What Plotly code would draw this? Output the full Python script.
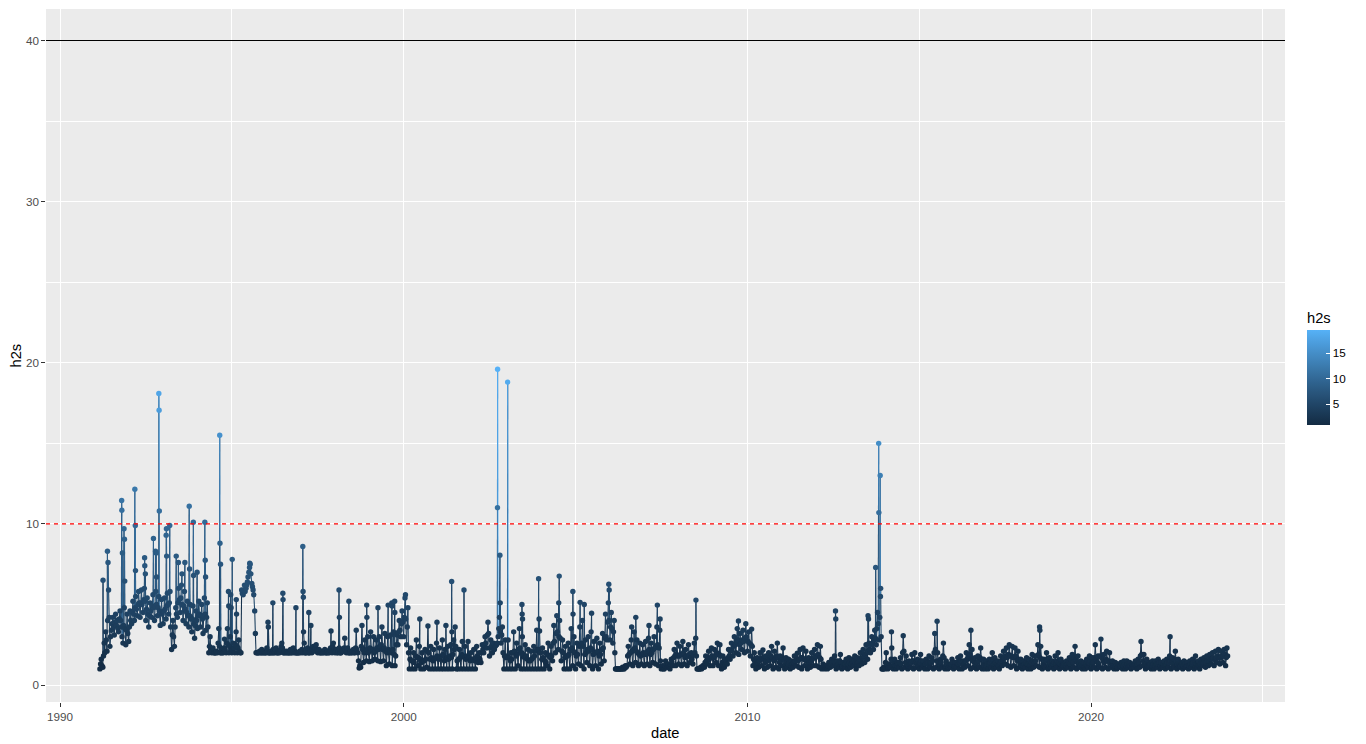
import numpy as np
import pandas as pd
import plotly.graph_objects as go

# ---------------- data ----------------
# readings on the 1st and 15th of each month
h2s_1991 = [1.0, 1.6, 1.1, 2.6, 3.3, 2.1, 5.9, 2.4, 3.4, 4.2, 3.1, 4.4, 4.0, 3.3, 4.6, 3.6, 2.6, 4.8, 2.5, 4.4]  # from March
h2s_1992 = [2.7, 4.6, 3.8, 5.2, 4.0, 5.5, 4.3, 5.8, 4.2, 5.9, 4.5, 6.0, 4.0, 5.4, 3.6, 5.1, 4.2, 5.6, 4.0, 5.8, 4.3, 5.5, 3.7, 5.3]
h2s_1993 = [3.8, 5.4, 4.1, 5.7, 4.4, 5.8, 2.2, 4.0, 2.4, 4.8, 4.2, 6.0, 4.5, 6.2, 4.0, 5.8, 3.8, 5.2, 3.6, 5.0, 3.3, 4.9, 2.9, 4.6]
h2s_1994 = [3.5, 5.2, 3.6, 5.0, 3.2, 5.4, 3.4, 5.1, 2.0, 3.0, 2.0, 2.3, 2.0, 2.0, 2.0, 3.5, 2.0, 2.2, 2.0, 2.85, 2.0, 3.5, 2.0, 3.0]
h2s_1995 = [2.0, 2.6, 2.0, 3.3, 2.0, 2.8, 2.0, 5.9, 5.6, 6.2, 6.0, 6.4, 7.0, 7.5, 6.3, 5.9, 4.6, 2.0, 2.0, 2.0, 2.0, 2.2, 2.0, 2.0]
h2s_1996 = [2.0, 2.1, 2.0, 2.0, 2.0, 2.2, 2.0, 2.3, 2.0, 2.1, 2.2, 2.6, 2.0, 2.1, 2.0, 2.0, 2.0, 2.2, 2.0, 2.3, 2.1, 2.0, 2.0, 2.0]
h2s_1997 = [2.0, 2.2, 3.3, 2.0, 2.0, 2.3, 2.0, 2.2, 2.0, 2.4, 2.1, 2.5, 2.0, 2.2, 2.0, 2.1, 2.0, 2.2, 2.0, 2.1, 2.0, 2.3, 2.0, 2.6]
h2s_1998 = [2.0, 2.2, 2.0, 2.3, 2.0, 2.2, 2.1, 2.9, 2.0, 2.3, 2.0, 2.1, 2.0, 2.2, 2.0, 3.4, 2.0, 1.05, 1.1, 3.7, 1.4, 2.8, 1.5, 3.0]
h2s_1999 = [1.45, 3.3, 1.5, 3.0, 1.6, 2.8, 1.5, 3.0, 1.45, 3.6, 1.5, 3.2, 1.2, 3.0, 1.3, 3.1, 1.2, 3.3, 1.2, 2.5, 2.5, 4.0, 3.0, 4.6]
h2s_2000 = [3.0, 5.4, 2.5, 4.8, 1.0, 2.3, 1.0, 2.0, 1.0, 2.8, 1.2, 2.4, 1.0, 2.0, 1.0, 2.2, 1.1, 3.66, 1.0, 2.4, 1.0, 2.2, 1.0, 2.6]
h2s_2001 = [1.0, 2.3, 1.0, 2.8, 1.0, 2.2, 1.0, 2.4, 1.0, 2.5, 1.0, 2.8, 3.6, 1.0, 1.0, 2.2, 1.0, 2.7, 1.0, 2.4, 1.0, 2.7, 1.0, 2.0]
h2s_2002 = [1.0, 2.2, 1.0, 2.4, 1.4, 2.0, 1.4, 2.5, 2.0, 3.0, 2.3, 3.9, 1.8, 2.8, 2.0, 2.6, 2.4, 2.5, 3.0, 4.2, 2.6, 3.6, 1.0, 2.8]
h2s_2003 = [1.0, 2.8, 1.0, 2.0, 1.0, 3.3, 1.0, 2.6, 1.2, 3.5, 1.0, 3.0, 1.0, 2.5, 1.0, 2.2, 1.0, 2.1, 1.0, 2.4, 1.0, 3.4, 1.0, 3.35]
h2s_2004 = [1.0, 2.3, 1.0, 2.0, 1.2, 2.6, 1.0, 2.4, 1.5, 3.7, 2.0, 4.3, 2.2, 4.0, 1.5, 2.8, 1.0, 2.4, 1.0, 2.6, 1.0, 3.5, 1.2, 3.0]
h2s_2005 = [1.0, 2.6, 1.3, 3.6, 1.2, 4.0, 1.0, 2.8, 1.4, 3.0, 1.2, 3.3, 1.0, 2.7, 1.2, 2.9, 1.0, 2.6, 1.3, 3.2, 1.5, 4.4, 2.8, 5.1]
h2s_2006 = [2.8, 4.5, 2.6, 4.0, 1.0, 1.0, 1.0, 1.0, 1.0, 1.1, 1.0, 1.2, 1.2, 2.4, 1.3, 2.8, 1.2, 3.3, 1.4, 2.8, 1.2, 2.6, 1.3, 2.5]
h2s_2007 = [1.2, 2.7, 1.3, 2.9, 1.2, 2.6, 1.4, 3.0, 1.3, 3.6, 1.2, 3.4, 1.0, 1.2, 1.0, 1.5, 1.1, 1.3, 1.0, 1.6, 1.2, 2.2, 1.2, 2.6]
h2s_2008 = [1.3, 2.4, 1.2, 2.7, 1.3, 2.2, 1.2, 2.5, 1.4, 2.0, 1.3, 2.6, 2.9, 1.0, 1.0, 1.0, 1.0, 1.2, 1.1, 1.8, 1.3, 2.1, 1.2, 2.3]
h2s_2009 = [1.2, 2.2, 1.4, 2.6, 1.2, 2.5, 1.0, 1.8, 1.1, 1.6, 1.3, 2.2, 1.6, 2.6, 1.8, 3.0, 2.0, 3.5, 1.9, 3.2, 2.2, 3.4, 2.0, 3.8]
h2s_2010 = [2.1, 3.3, 1.8, 3.47, 1.2, 2.0, 1.0, 1.7, 1.1, 2.0, 1.2, 2.17, 1.0, 1.8, 1.1, 2.0, 1.2, 2.4, 1.0, 2.1, 1.1, 2.6, 1.0, 1.8]
h2s_2011 = [1.2, 2.3, 1.0, 1.7, 1.1, 1.6, 1.0, 1.5, 1.1, 1.8, 1.2, 1.97, 1.1, 2.2, 1.0, 2.3, 1.2, 2.1, 1.0, 1.7, 1.1, 2.0, 1.2, 2.2]
h2s_2012 = [1.2, 2.5, 1.1, 2.4, 1.0, 1.3, 1.0, 1.2, 1.0, 1.4, 1.1, 1.6, 1.2, 1.8, 1.0, 1.5, 1.1, 1.9, 1.0, 1.4, 1.1, 1.6, 1.0, 1.7]
h2s_2013 = [1.1, 1.6, 1.2, 1.8, 1.0, 1.7, 1.2, 2.0, 1.3, 2.2, 1.4, 2.5, 1.6, 2.6, 2.0, 3.0, 2.2, 3.4, 2.5, 4.5, 2.8, 5.5, 1.0, 1.0]
h2s_2014 = [1.0, 2.0, 1.0, 1.3, 1.1, 2.3, 1.0, 1.6, 1.0, 1.4, 1.1, 1.7, 1.0, 3.06, 1.1, 1.8, 1.0, 1.5, 1.1, 1.9, 1.0, 2.0, 1.1, 1.6]
h2s_2015 = [1.0, 1.9, 1.1, 1.5, 1.0, 1.6, 1.0, 1.8, 1.1, 1.7, 1.0, 3.2, 1.1, 2.0, 1.0, 1.6, 1.1, 2.6, 1.0, 1.5, 1.0, 1.3, 1.1, 1.6]
h2s_2016 = [1.0, 1.4, 1.1, 1.7, 1.0, 1.8, 1.0, 1.5, 1.1, 2.0, 1.2, 2.5, 1.0, 2.2, 1.1, 1.7, 1.0, 1.8, 1.1, 2.3, 1.0, 1.6, 1.0, 1.5]
h2s_2017 = [1.0, 1.6, 1.1, 2.0, 1.0, 1.7, 1.1, 1.5, 1.0, 1.8, 1.2, 2.1, 1.3, 2.3, 1.2, 2.5, 1.1, 2.4, 1.2, 2.3, 1.0, 2.1, 1.1, 1.6]
h2s_2018 = [1.0, 1.5, 1.1, 1.7, 1.0, 1.6, 1.0, 1.9, 1.1, 1.8, 1.2, 2.5, 1.1, 2.4, 1.0, 1.6, 1.1, 2.0, 1.0, 1.7, 1.1, 1.5, 1.0, 1.8]
h2s_2019 = [1.1, 2.0, 1.0, 1.6, 1.1, 1.4, 1.0, 1.5, 1.1, 1.7, 1.0, 1.9, 1.1, 2.4, 1.0, 1.8, 1.1, 1.5, 1.0, 1.4, 1.0, 1.6, 1.1, 1.8]
h2s_2020 = [1.0, 1.7, 1.1, 2.5, 1.0, 1.8, 1.1, 2.85, 1.0, 1.9, 1.1, 2.1, 1.0, 2.0, 1.1, 1.5, 1.0, 1.4, 1.0, 1.3, 1.1, 1.4, 1.0, 1.5]
h2s_2021 = [1.0, 1.5, 1.1, 1.4, 1.0, 1.3, 1.1, 1.5, 1.0, 1.6, 1.1, 2.7, 1.2, 1.9, 1.0, 1.6, 1.1, 1.4, 1.0, 1.5, 1.0, 1.5, 1.1, 1.6]
h2s_2022 = [1.0, 1.4, 1.1, 1.5, 1.0, 1.6, 1.1, 1.8, 1.0, 1.7, 1.1, 2.1, 1.0, 1.6, 1.1, 1.4, 1.0, 1.5, 1.1, 1.4, 1.0, 1.5, 1.1, 1.6]
h2s_2023 = [1.0, 1.8, 1.1, 1.5, 1.0, 1.6, 1.2, 1.7, 1.1, 1.8, 1.2, 1.9, 1.3, 2.0, 1.2, 2.1, 1.4, 2.2, 1.3, 2.1, 1.4, 2.2, 1.2, 2.3]

# readings on the 8th and 22nd of each month
mid_1991 = [1.3, 1.2, 1.8, 2.0, 2.8, 4.0, 4.2, 3.0, 3.8, 3.6, 3.9, 3.7, 3.5, 4.1, 4.0, 3.0, 3.7, 3.5, 3.4, 3.2]  # from March
mid_1992 = [3.6, 4.0, 4.5, 4.4, 4.8, 4.7, 5.0, 5.1, 5.1, 5.0, 5.3, 5.2, 4.7, 4.4, 4.3, 4.6, 4.9, 4.8, 4.9, 5.0, 4.8, 4.6, 4.5, 4.4]
mid_1993 = [4.6, 4.7, 4.9, 5.0, 5.1, 3.6, 3.1, 3.0, 3.6, 4.4, 5.1, 5.3, 5.4, 5.0, 4.9, 4.7, 4.5, 4.3, 4.3, 4.1, 4.1, 3.8, 3.7, 4.0]
mid_1994 = [4.3, 4.4, 4.3, 4.1, 4.3, 4.4, 4.2, 3.6, 2.4, 2.2, 2.1, 2.0, 2.0, 2.1, 2.6, 2.4, 2.0, 2.0, 2.3, 2.2, 2.6, 2.5, 2.4, 2.2]
mid_1995 = [2.2, 2.3, 2.5, 2.4, 2.3, 2.1, 2.0, 5.7, 5.9, 5.8, 6.2, 6.7, 7.3, 6.9, 6.1, 5.6, 3.2, 2.0, 2.0, 2.1, 2.0, 2.0, 2.1, 2.0]
mid_1996 = [2.3, 2.0, 2.0, 2.1, 2.0, 2.0, 2.2, 2.0, 2.0, 2.0, 2.4, 2.3, 2.0, 2.0, 2.1, 2.0, 2.0, 2.0, 2.2, 2.0, 2.0, 2.0, 2.0, 2.1]
mid_1997 = [2.1, 2.0, 2.6, 2.0, 2.1, 2.0, 2.0, 2.1, 2.2, 2.2, 2.3, 2.2, 2.1, 2.0, 2.0, 2.0, 2.1, 2.0, 2.0, 2.0, 2.2, 2.1, 2.4, 2.2]
mid_1998 = [2.1, 2.0, 2.1, 2.0, 2.0, 2.1, 2.3, 2.2, 2.1, 2.0, 2.0, 2.0, 2.1, 2.0, 2.3, 2.2, 1.5, 1.2, 2.4, 2.2, 2.0, 2.1, 2.2, 2.0]
mid_1999 = [2.3, 2.2, 2.2, 2.0, 2.1, 2.3, 2.2, 2.4, 2.5, 2.2, 2.3, 2.1, 2.0, 2.2, 2.1, 2.0, 2.2, 1.9, 1.8, 3.1, 3.3, 3.4, 3.8, 3.9]
mid_2000 = [4.2, 4.1, 3.6, 2.0, 1.6, 1.5, 1.5, 1.4, 1.8, 1.7, 1.7, 1.6, 1.4, 1.5, 1.5, 1.6, 2.1, 2.0, 1.6, 1.7, 1.5, 1.6, 1.7, 1.8]
mid_2001 = [1.6, 1.7, 1.8, 1.9, 1.5, 1.6, 1.7, 1.6, 1.8, 1.7, 1.9, 2.2, 2.4, 1.5, 1.6, 1.7, 1.9, 1.8, 1.7, 1.6, 1.8, 1.7, 1.5, 1.6]
mid_2002 = [1.6, 1.5, 1.7, 1.8, 1.7, 1.6, 2.0, 2.2, 2.5, 2.6, 3.1, 3.2, 2.3, 2.4, 2.3, 2.2, 2.5, 2.6, 3.5, 3.3, 3.1, 2.0, 1.8, 1.7]
mid_2003 = [1.8, 1.7, 1.5, 1.6, 2.0, 2.1, 1.8, 1.9, 2.2, 2.3, 2.0, 1.9, 1.7, 1.8, 1.6, 1.5, 1.5, 1.6, 1.7, 1.8, 2.1, 2.2, 2.2, 2.0]
mid_2004 = [1.6, 1.7, 1.5, 1.4, 1.9, 1.8, 1.7, 1.8, 2.6, 2.7, 3.2, 3.3, 3.0, 2.9, 2.1, 2.0, 1.7, 1.8, 1.8, 1.9, 2.2, 2.3, 2.1, 2.0]
mid_2005 = [1.8, 1.9, 2.4, 2.5, 2.6, 2.4, 1.9, 2.0, 2.2, 2.1, 2.3, 2.2, 1.9, 2.0, 2.0, 2.1, 1.8, 1.9, 2.2, 2.3, 2.9, 3.0, 3.9, 4.0]
mid_2006 = [3.6, 3.5, 3.3, 2.0, 1.0, 1.0, 1.0, 1.0, 1.0, 1.0, 1.1, 1.1, 1.8, 1.9, 2.0, 2.1, 2.2, 2.3, 2.1, 2.0, 1.9, 1.8, 1.9, 2.0]
mid_2007 = [1.9, 2.0, 2.1, 2.2, 1.9, 2.0, 2.2, 2.3, 2.4, 2.5, 2.3, 1.5, 1.1, 1.0, 1.2, 1.3, 1.2, 1.1, 1.3, 1.4, 1.7, 1.8, 1.9, 1.8]
mid_2008 = [1.8, 1.9, 1.9, 2.0, 1.7, 1.8, 1.8, 1.9, 1.7, 1.6, 1.9, 2.0, 1.8, 1.0, 1.0, 1.1, 1.1, 1.2, 1.4, 1.5, 1.7, 1.6, 1.7, 1.8]
mid_2009 = [1.7, 1.8, 2.0, 1.9, 1.9, 1.8, 1.4, 1.3, 1.3, 1.4, 1.7, 1.8, 2.1, 2.2, 2.4, 2.5, 2.7, 2.8, 2.5, 2.6, 2.8, 2.7, 2.9, 3.0]
mid_2010 = [2.7, 2.6, 2.5, 2.4, 1.6, 1.5, 1.3, 1.4, 1.5, 1.6, 1.7, 1.6, 1.4, 1.5, 1.5, 1.6, 1.8, 1.7, 1.5, 1.6, 1.8, 1.7, 1.4, 1.5]
mid_2011 = [1.7, 1.6, 1.3, 1.4, 1.3, 1.4, 1.2, 1.3, 1.4, 1.5, 1.6, 1.5, 1.6, 1.7, 1.7, 1.6, 1.6, 1.5, 1.3, 1.4, 1.5, 1.6, 1.7, 1.8]
mid_2012 = [1.8, 1.9, 1.7, 1.6, 1.1, 1.2, 1.1, 1.1, 1.2, 1.2, 1.3, 1.4, 1.5, 1.4, 1.2, 1.3, 1.5, 1.4, 1.2, 1.3, 1.3, 1.4, 1.3, 1.4]
mid_2013 = [1.3, 1.4, 1.5, 1.4, 1.3, 1.4, 1.6, 1.5, 1.7, 1.8, 1.9, 2.0, 2.1, 2.2, 2.5, 2.6, 2.8, 2.9, 3.5, 3.8, 4.2, 3.0, 1.0, 1.1]
mid_2014 = [1.4, 1.3, 1.1, 1.2, 1.6, 1.5, 1.3, 1.2, 1.2, 1.3, 1.4, 1.3, 2.0, 2.1, 1.4, 1.3, 1.2, 1.3, 1.4, 1.5, 1.5, 1.4, 1.3, 1.2]
mid_2015 = [1.4, 1.5, 1.3, 1.2, 1.3, 1.4, 1.4, 1.3, 1.4, 1.5, 2.0, 2.2, 1.5, 1.4, 1.3, 1.4, 1.8, 1.7, 1.2, 1.3, 1.1, 1.2, 1.3, 1.4]
mid_2016 = [1.2, 1.2, 1.4, 1.3, 1.4, 1.5, 1.2, 1.3, 1.5, 1.6, 1.8, 1.9, 1.6, 1.5, 1.4, 1.3, 1.4, 1.5, 1.7, 1.6, 1.3, 1.2, 1.2, 1.3]
mid_2017 = [1.3, 1.4, 1.5, 1.6, 1.3, 1.4, 1.3, 1.2, 1.4, 1.5, 1.6, 1.7, 1.8, 1.7, 1.9, 1.8, 1.8, 1.7, 1.7, 1.8, 1.5, 1.6, 1.3, 1.2]
mid_2018 = [1.2, 1.3, 1.4, 1.3, 1.3, 1.2, 1.4, 1.5, 1.4, 1.5, 1.8, 1.9, 1.7, 1.6, 1.3, 1.2, 1.5, 1.6, 1.3, 1.4, 1.2, 1.3, 1.4, 1.3]
mid_2019 = [1.5, 1.4, 1.3, 1.2, 1.2, 1.3, 1.2, 1.3, 1.4, 1.3, 1.5, 1.4, 1.7, 1.6, 1.4, 1.3, 1.2, 1.3, 1.2, 1.1, 1.3, 1.2, 1.4, 1.5]
mid_2020 = [1.3, 1.4, 1.7, 1.6, 1.4, 1.3, 1.8, 1.7, 1.5, 1.4, 1.6, 1.5, 1.5, 1.4, 1.3, 1.2, 1.2, 1.2, 1.1, 1.2, 1.2, 1.3, 1.2, 1.3]
mid_2021 = [1.2, 1.3, 1.2, 1.2, 1.1, 1.2, 1.3, 1.2, 1.3, 1.4, 1.8, 1.9, 1.5, 1.4, 1.3, 1.2, 1.2, 1.3, 1.2, 1.3, 1.2, 1.3, 1.3, 1.4]
mid_2022 = [1.2, 1.1, 1.3, 1.2, 1.3, 1.4, 1.4, 1.5, 1.4, 1.3, 1.6, 1.5, 1.3, 1.2, 1.2, 1.3, 1.2, 1.3, 1.2, 1.2, 1.2, 1.3, 1.3, 1.4]
mid_2023 = [1.4, 1.3, 1.3, 1.2, 1.3, 1.4, 1.4, 1.5, 1.4, 1.5, 1.5, 1.6, 1.6, 1.7, 1.6, 1.7, 1.8, 1.7, 1.7, 1.8, 1.8, 1.9, 1.7, 1.8]

# isolated peak readings
peak_dates = [
    "1991-04-03", "1991-05-20", "1991-05-26", "1991-10-18", "1991-10-20", "1991-10-26",
    "1991-11-12", "1991-11-17", "1991-11-20", "1992-03-06", "1992-03-11", "1992-03-13",
    "1992-06-18", "1992-06-20", "1992-06-26", "1992-09-20", "1992-10-12", "1992-10-19",
    "1992-10-23", "1992-11-16", "1992-11-19", "1992-11-21", "1993-02-02", "1993-02-05",
    "1993-02-07", "1993-03-12", "1993-05-20", "1993-06-12", "1993-07-20", "1993-08-20",
    "1993-10-05", "1993-10-09", "1993-11-18", "1993-11-20", "1993-12-28", "1994-03-20",
    "1994-03-24", "1994-03-28", "1994-08-25", "1994-08-28", "1994-09-03", "1994-11-26",
    "1994-11-29", "1994-12-20", "1994-12-24", "1995-01-05", "1995-02-17", "1995-02-20",
    "1995-07-10", "1996-01-20", "1996-01-24", "1996-03-12", "1996-06-26", "1996-06-28",
    "1996-11-12", "1997-01-24", "1997-01-27", "1997-01-30", "1997-03-29", "1997-04-20",
    "1997-11-20", "1998-02-13", "1998-02-17", "1998-05-29", "1998-12-04", "1998-12-06",
    "1999-04-03", "1999-07-20", "1999-08-28", "1999-08-31", "1999-09-27", "1999-09-29",
    "2000-01-20", "2000-06-20", "2000-12-20", "2001-03-25", "2001-05-25", "2001-05-28",
    "2001-10-03", "2002-09-24", "2002-09-25", "2002-10-20", "2002-10-23", "2003-01-10",
    "2003-06-11", "2003-06-13", "2003-06-17", "2003-12-05", "2003-12-10", "2004-07-06",
    "2004-07-11", "2004-12-03", "2004-12-05", "2005-02-18", "2005-04-03", "2005-06-20",
    "2005-12-20", "2005-12-24", "2006-08-20", "2006-10-03", "2007-02-20", "2007-05-20",
    "2007-06-18", "2008-07-03", "2009-09-28", "2012-07-25", "2012-07-28", "2013-07-06",
    "2013-07-11", "2013-09-25", "2013-10-27", "2013-10-29", "2013-11-12", "2013-11-17",
    "2014-03-12", "2015-07-10", "2016-07-03", "2018-07-03", "2018-07-06", "2022-04-20",
]
peak_values = [
    6.5, 8.3, 7.6, 11.45, 10.85, 8.2,
    9.7, 9.05, 6.45, 12.15, 9.9, 7.1,
    7.9, 7.4, 6.9, 9.1, 8.3, 8.2,
    6.7, 18.1, 17.05, 10.8, 9.3, 9.7,
    8.0, 9.9, 8.0, 7.6, 6.9, 7.6,
    11.1, 7.2, 10.1, 6.8, 7.0, 10.1,
    7.75, 6.7, 15.5, 8.8, 7.5, 5.8,
    4.9, 5.6, 4.8, 7.8, 5.3, 4.4,
    7.56, 3.9, 3.6, 5.1, 5.7, 5.3,
    4.8, 8.6, 5.8, 5.45, 4.5, 3.7,
    3.35, 5.9, 4.2, 5.2, 4.96, 4.2,
    4.8, 4.96, 5.1, 4.9, 5.2, 4.5,
    5.6, 4.1, 3.9, 3.7, 6.43, 3.3,
    5.9, 11.0, 19.6, 8.06, 5.1, 18.8,
    5.0, 4.4, 4.1, 6.6, 4.1, 5.1,
    6.76, 5.8, 4.4, 5.13, 5.0, 4.45,
    6.26, 5.9, 3.6, 4.2, 3.7, 4.96,
    4.1, 5.27, 3.97, 4.6, 4.1, 4.3,
    4.1, 7.3, 15.0, 10.7, 13.0, 6.0,
    3.3, 3.96, 3.4, 3.6, 3.4, 3.0,
]

threshold_red = 10
threshold_black = 40
colorbar_ticks = [5, 10, 15]
x_ticks_years = [1990, 2000, 2010, 2020]
x_minor_years = [1995, 2005, 2015, 2025]

# ---------------- assemble ----------------
yearly = [h2s_1991, h2s_1992, h2s_1993, h2s_1994, h2s_1995, h2s_1996, h2s_1997, h2s_1998,
          h2s_1999, h2s_2000, h2s_2001, h2s_2002, h2s_2003, h2s_2004, h2s_2005, h2s_2006,
          h2s_2007, h2s_2008, h2s_2009, h2s_2010, h2s_2011, h2s_2012, h2s_2013, h2s_2014,
          h2s_2015, h2s_2016, h2s_2017, h2s_2018, h2s_2019, h2s_2020, h2s_2021, h2s_2022, h2s_2023]
yearly_mid = [mid_1991, mid_1992, mid_1993, mid_1994, mid_1995, mid_1996, mid_1997, mid_1998,
              mid_1999, mid_2000, mid_2001, mid_2002, mid_2003, mid_2004, mid_2005, mid_2006,
              mid_2007, mid_2008, mid_2009, mid_2010, mid_2011, mid_2012, mid_2013, mid_2014,
              mid_2015, mid_2016, mid_2017, mid_2018, mid_2019, mid_2020, mid_2021, mid_2022, mid_2023]
for i, (a, b) in enumerate(zip(yearly, yearly_mid)):
    exp = 20 if i == 0 else 24
    if len(a) != exp or len(b) != exp:
        print("length mismatch", 1991 + i, len(a), len(b))

grid_values = [v for yr in yearly for v in yr]
mid_values = [v for yr in yearly_mid for v in yr]
grid_dates = pd.date_range("1991-03-01", "2023-12-15", freq="SMS")
mid_dates = grid_dates + pd.Timedelta(days=7)
n1 = min(len(grid_dates), len(grid_values))
n2 = min(len(mid_dates), len(mid_values))

df = pd.concat([
    pd.DataFrame({"date": grid_dates[:n1], "h2s": grid_values[:n1]}),
    pd.DataFrame({"date": mid_dates[:n2], "h2s": mid_values[:n2]}),
    pd.DataFrame({"date": pd.to_datetime(peak_dates), "h2s": peak_values}),
]).sort_values("date", kind="stable").reset_index(drop=True)

# ---------------- ggplot2-like colour gradient (Lab interpolation) ----------------
_M = np.array([[0.4124564, 0.3575761, 0.1804375],
               [0.2126729, 0.7151522, 0.0721750],
               [0.0193339, 0.1191920, 0.9503041]])
_WP = np.array([0.95047, 1.0, 1.08883])


def hex_to_lab(h):
    rgb = np.array([int(h[i:i + 2], 16) for i in (1, 3, 5)]) / 255.0
    lin = np.where(rgb <= 0.04045, rgb / 12.92, ((rgb + 0.055) / 1.055) ** 2.4)
    t = (_M @ lin) / _WP
    d = 6 / 29
    f = np.where(t > d ** 3, np.cbrt(t), t / (3 * d * d) + 4 / 29)
    return np.array([116 * f[1] - 16, 500 * (f[0] - f[1]), 200 * (f[1] - f[2])])


def lab_to_hex(lab):
    L, a, b = lab
    fy = (L + 16) / 116
    f = np.array([fy + a / 500, fy, fy - b / 200])
    d = 6 / 29
    t = np.where(f > d, f ** 3, 3 * d * d * (f - 4 / 29))
    lin = np.linalg.inv(_M) @ (t * _WP)
    lin = np.clip(lin, 0, None)
    rgb = np.where(lin <= 0.0031308, 12.92 * lin, 1.055 * lin ** (1 / 2.4) - 0.055)
    rgb = np.clip(rgb, 0, 1)
    return "#%02x%02x%02x" % tuple(int(round(c * 255)) for c in rgb)


LOW, HIGH = "#132B43", "#56B1F7"
lab_lo, lab_hi = hex_to_lab(LOW), hex_to_lab(HIGH)


def grad(t):
    return lab_to_hex(lab_lo + (lab_hi - lab_lo) * t)


colorscale = [[t, grad(t)] for t in np.linspace(0, 1, 21)]
cmin, cmax = 0.9, float(df["h2s"].max())

# ---------------- figure ----------------
fig = go.Figure()

# line segments coloured by their starting value (as ggplot geom_line does)
nb = 40
xs = df["date"].tolist()
ys = df["h2s"].tolist()
bins = {}
for i in range(len(ys) - 1):
    t = (ys[i] - cmin) / (cmax - cmin)
    b = int(min(nb - 1, max(0, np.floor(t * nb))))
    bx, by = bins.setdefault(b, ([], []))
    bx += [xs[i], xs[i + 1], None]
    by += [ys[i], ys[i + 1], None]
for b in sorted(bins):
    bx, by = bins[b]
    fig.add_trace(go.Scatter(
        x=bx, y=by, mode="lines", line=dict(color=grad((b + 0.5) / nb), width=1.07),
        hoverinfo="skip", showlegend=False))

font_family = "Liberation Sans, Arial, sans-serif"

fig.add_trace(go.Scatter(
    x=df["date"], y=df["h2s"], mode="markers", showlegend=False,
    marker=dict(size=5.4, color=df["h2s"], colorscale=colorscale, cmin=cmin, cmax=cmax,
                line=dict(width=0), showscale=True,
                colorbar=dict(
                    title=dict(text="h2s", side="top",
                               font=dict(size=14.67, color="black", family=font_family)),
                    tickvals=colorbar_ticks, ticks="inside", ticklen=4, tickcolor="white", tickwidth=1,
                    tickfont=dict(size=11.7, color="black", family=font_family),
                    thickness=23, thicknessmode="pixels", len=116, lenmode="pixels",
                    x=(1307 - 46) / 1239, xanchor="left", xpad=0,
                    y=(702 - 367) / 693, yanchor="middle", ypad=0,
                    outlinewidth=0,
                )),
    hovertemplate="%{x|%Y-%m-%d}: %{y}<extra></extra>"))

fig.add_shape(type="line", xref="paper", x0=0, x1=1, yref="y", y0=threshold_black, y1=threshold_black,
              line=dict(color="black", width=1.07))
fig.add_shape(type="line", xref="paper", x0=0, x1=1, yref="y", y0=threshold_red, y1=threshold_red,
              line=dict(color="red", width=1.07, dash="4px,4px"))

fig.update_layout(
    width=1366, height=744,
    margin=dict(l=46, r=81, t=9, b=42, autoexpand=False),
    paper_bgcolor="white", plot_bgcolor="#EBEBEB",
    font=dict(family=font_family, color="#4D4D4D"),
    showlegend=False,
    xaxis=dict(
        type="date", range=["1989-08-05", "2025-08-23"],
        tickvals=[f"{y}-01-01" for y in x_ticks_years], ticktext=[str(y) for y in x_ticks_years],
        showgrid=True, gridcolor="white", gridwidth=1.07, zeroline=False, showline=False,
        ticks="outside", ticklen=3.7, tickwidth=1.07, tickcolor="#333333",
        tickfont=dict(size=11.7, color="#4D4D4D"),
        minor=dict(tickvals=[f"{y}-01-01" for y in x_minor_years],
                   showgrid=True, gridcolor="white", gridwidth=0.53, ticks=""),
        automargin=False,
    ),
    yaxis=dict(
        range=[-1.055, 41.96], tickvals=[0, 10, 20, 30, 40],
        showgrid=True, gridcolor="white", gridwidth=1.07, zeroline=False, showline=False,
        ticks="outside", ticklen=3.7, tickwidth=1.07, tickcolor="#333333",
        tickfont=dict(size=11.7, color="#4D4D4D"),
        minor=dict(tickvals=[5, 15, 25, 35], showgrid=True, gridcolor="white", gridwidth=0.53, ticks=""),
        automargin=False,
    ),
    annotations=[
        dict(text="date", xref="paper", yref="paper", x=0.5, y=(702 - 733) / 693,
             xanchor="center", yanchor="middle", showarrow=False,
             font=dict(size=14.67, color="black", family=font_family)),
        dict(text="h2s", xref="paper", yref="paper", x=(15 - 46) / 1239, y=0.5, textangle=-90,
             xanchor="center", yanchor="middle", showarrow=False,
             font=dict(size=14.67, color="black", family=font_family)),
    ],
)

fig.write_html("out.html", config={"displayModeBar": False},
               post_script="document.body.style.margin='0';")
